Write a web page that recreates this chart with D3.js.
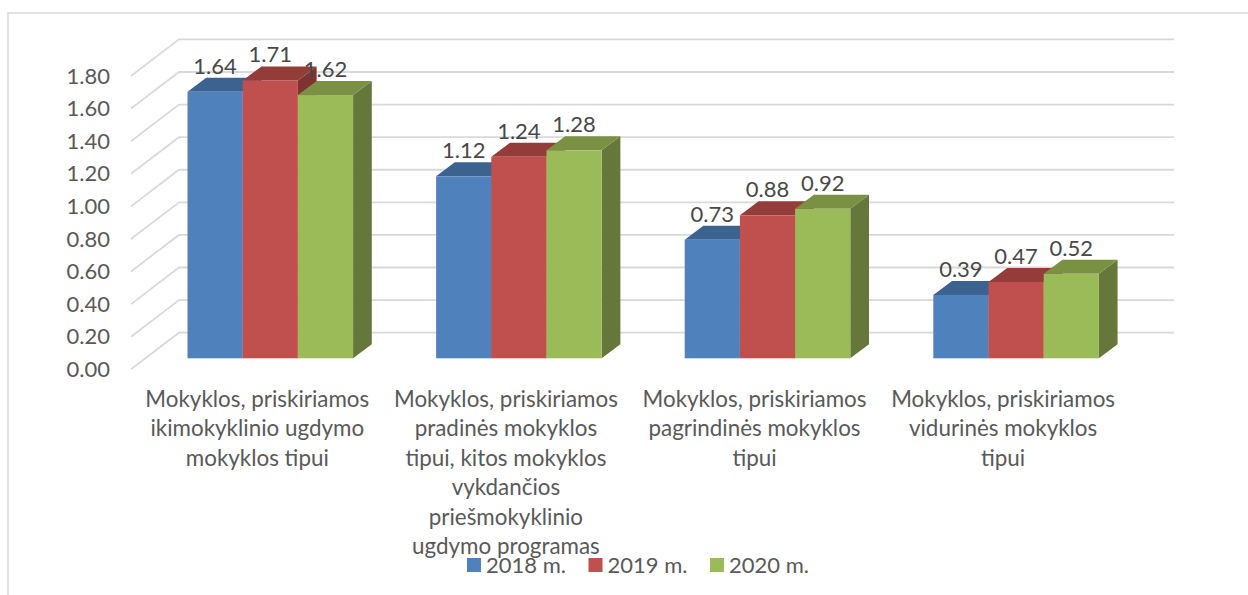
<!DOCTYPE html>
<html><head><meta charset="utf-8">
<script src="https://cdnjs.cloudflare.com/ajax/libs/d3/7.8.5/d3.min.js"></script>
<style>html,body{margin:0;padding:0;background:#fff}svg{display:block}text{font-family:Lato,Carlito,sans-serif}</style>
</head><body><div id="c"></div>
<script>
const categories = [
  ["Mokyklos, priskiriamos","ikimokyklinio ugdymo","mokyklos tipui"],
  ["Mokyklos, priskiriamos","pradinės mokyklos","tipui, kitos mokyklos","vykdančios","priešmokyklinio","ugdymo programas"],
  ["Mokyklos, priskiriamos","pagrindinės mokyklos","tipui"],
  ["Mokyklos, priskiriamos","vidurinės mokyklos","tipui"]
];
const seriesNames = ["2018 m.","2019 m.","2020 m."];
const values2018 = [1.64,1.12,0.73,0.39];
const values2019 = [1.71,1.24,0.88,0.47];
const values2020 = [1.62,1.28,0.92,0.52];
const tickValues = [0,0.2,0.4,0.6,0.8,1.0,1.2,1.4,1.6,1.8];
const frontColors = ["#4f81bd","#c0504d","#9bbb59"];
const topColors = ["#3c6290","#943c3a","#7a9143"];
const sideColors = ["#355780","#7f322f","#65773a"];

const seriesValues = [values2018,values2019,values2020];
const W=1248,H=595;
const svg=d3.select("#c").append("svg").attr("width",W).attr("height",H);
const gridColor="#d9d9d9", textColor="#595959", labelColor="#484848";
const fontSize=22;

// chart frame
svg.append("path").attr("d",`M${W},13H8V${H}`).attr("fill","none").attr("stroke",gridColor).attr("stroke-width",1.6);

// y on the front plane of the box, x band on the front plane
const y=d3.scaleLinear().domain([0,1.8]).range([369.3,76]);
const x=d3.scaleBand().domain(d3.range(categories.length)).range([146,1140.4]).paddingInner(0.334).paddingOuter(0.167);
const inner=d3.scaleBand().domain(d3.range(3)).range([0,x.bandwidth()]);

const wallDx=48, wallDy=-36.6, wallRight=1174;
const barBase=358.3, barDx=18.7, barDy=-14;
const barY=d3.scaleLinear().domain([0,1.8]).range([barBase,barBase-292.5]);

// gridlines: diagonal on the side wall then along the back wall
svg.append("g").selectAll("path").data(tickValues).join("path")
  .attr("d",d=>`M131,${y(d)}L${131+wallDx},${y(d)+wallDy}H${wallRight}`)
  .attr("fill","none").attr("stroke",gridColor).attr("stroke-width",1.8);

// y tick labels
svg.append("g").selectAll("text").data(tickValues).join("text")
  .attr("x",110).attr("y",d=>y(d)).attr("dy","0.35em").attr("text-anchor","end")
  .attr("font-size",fontSize).attr("fill",textColor).text(d=>d.toFixed(2));

// bars
const rows=[];
seriesValues.forEach((vals,s)=>vals.forEach((v,c)=>rows.push({s,c,v})));
rows.sort((a,b)=>a.c-b.c||a.s-b.s);
const bars=svg.append("g");
rows.forEach(r=>{
  const x0=x(r.c)+inner(r.s), w=inner.bandwidth(), t=barY(r.v);
  const g=bars.append("g");
  g.append("polygon").attr("fill",sideColors[r.s])
    .attr("points",[[x0+w,t],[x0+w+barDx,t+barDy],[x0+w+barDx,barBase+barDy],[x0+w,barBase]].join(" "));
  g.append("polygon").attr("fill",topColors[r.s])
    .attr("points",[[x0,t],[x0+barDx,t+barDy],[x0+w+barDx,t+barDy],[x0+w,t]].join(" "));
  g.append("rect").attr("x",x0).attr("y",t).attr("width",w).attr("height",barBase-t).attr("fill",frontColors[r.s]);
});

// data labels
svg.append("g").selectAll("text").data(rows).join("text")
  .attr("x",d=>x(d.c)+inner(d.s)+inner.bandwidth()/2)
  .attr("y",d=>barY(d.v)-18).attr("text-anchor","middle")
  .attr("font-size",fontSize).attr("fill",labelColor).text(d=>d.v.toFixed(2));

// category labels
const cat=svg.append("g").selectAll("text").data(categories).join("text")
  .attr("text-anchor","middle").attr("font-size",22.4).attr("fill",textColor);
cat.each(function(lines,i){
  d3.select(this).selectAll("tspan").data(lines).join("tspan")
    .attr("x",x(i)+x.bandwidth()/2-13).attr("y",(d,j)=>407+j*29.4).text(d=>d);
});

// legend
const legendX=d3.scalePoint().domain(seriesNames).range([467,710]);
const leg=svg.append("g").selectAll("g").data(seriesNames).join("g")
  .attr("transform",d=>`translate(${legendX(d)},558)`);
leg.append("rect").attr("width",14).attr("height",14).attr("fill",(d,i)=>frontColors[i]);
leg.append("text").attr("x",19).attr("y",15).attr("font-size",fontSize).attr("fill",textColor).text(d=>d);
</script></body></html>
